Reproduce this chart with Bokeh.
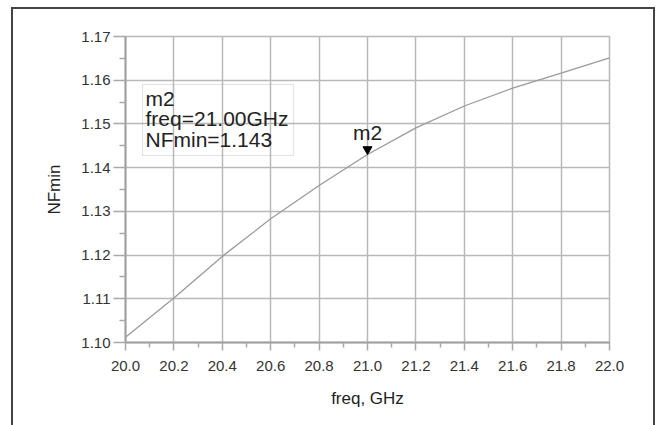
from bokeh.plotting import figure
from bokeh.models import BoxAnnotation, Range1d, FixedTicker, NumeralTickFormatter, Label, InlineStyleSheet
from bokeh.core.properties import value
from bokeh.embed import file_html
from bokeh.resources import INLINE

# ---- data ----
freq = [20.0, 20.2, 20.4, 20.6, 20.8, 21.0, 21.2, 21.4, 21.6, 21.8, 22.0]
nfmin = [1.1012, 1.1102, 1.1197, 1.1283, 1.1359, 1.1430, 1.1491, 1.1541, 1.1582, 1.1616, 1.1651]
x_ticks = [20.0, 20.2, 20.4, 20.6, 20.8, 21.0, 21.2, 21.4, 21.6, 21.8, 22.0]
y_ticks = [1.10, 1.11, 1.12, 1.13, 1.14, 1.15, 1.16, 1.17]
marker_name = "m2"
marker_freq = 21.0
x_label = "freq, GHz"
y_label = "NFmin"

# ---- layout ----
W, H = 659, 425
L, R, T, B = 125, 50, 36, 83
x0, x1 = x_ticks[0], x_ticks[-1]
y0, y1 = y_ticks[0], y_ticks[-1]
FW, FH = W - L - R, H - T - B

def px2x(px):
    return x0 + (px - L) / FW * (x1 - x0)

def py2y(py):
    return y1 - (py - T) / FH * (y1 - y0)

FONT = "Liberation Sans"
GRID = "#b8b8b8"

p = figure(width=W, height=H, x_range=Range1d(x0, x1), y_range=Range1d(y0, y1),
           output_backend="svg", toolbar_location=None,
           min_border_left=L, min_border_right=R, min_border_top=T, min_border_bottom=B)
p.background_fill_color = "white"
p.border_fill_color = "white"
p.outline_line_color = GRID
p.outline_line_width = 1.5

x_minor = [(a + b) / 2 for a, b in zip(x_ticks[:-1], x_ticks[1:])]
y_minor = [(a + b) / 2 for a, b in zip(y_ticks[:-1], y_ticks[1:])]
p.xaxis.ticker = FixedTicker(ticks=x_ticks, minor_ticks=x_minor)
p.yaxis.ticker = FixedTicker(ticks=y_ticks, minor_ticks=y_minor)
p.xgrid.ticker = FixedTicker(ticks=x_ticks)
p.ygrid.ticker = FixedTicker(ticks=y_ticks)
p.xaxis.formatter = NumeralTickFormatter(format="0.0")
p.yaxis.formatter = NumeralTickFormatter(format="0.00")

for g in (p.xgrid, p.ygrid):
    g.grid_line_color = GRID
    g.grid_line_width = 1.5

for ax in (p.xaxis, p.yaxis):
    ax.axis_line_color = "#a0a0a0"
    ax.axis_line_width = 2
    ax.major_tick_line_color = "#a8a8a8"
    ax.major_tick_line_width = 1.5
    ax.minor_tick_line_color = "#a8a8a8"
    ax.minor_tick_line_width = 1.5
    ax.major_tick_in = 0
    ax.minor_tick_in = 0
    ax.major_label_text_font = FONT
    ax.major_label_text_font_size = "15px"
    ax.major_label_text_color = "#333333"
    ax.axis_label_text_font = FONT
    ax.axis_label_text_font_size = "17px"
    ax.axis_label_text_font_style = "normal"
    ax.axis_label_text_color = "#222222"

p.xaxis.major_tick_out = 8
p.xaxis.minor_tick_out = 5
p.yaxis.major_tick_out = 12
p.yaxis.minor_tick_out = 6
p.xaxis.major_label_standoff = 10
p.yaxis.major_label_standoff = 3
p.xaxis.axis_label = x_label
p.yaxis.axis_label = y_label
p.xaxis.axis_label_standoff = 15
p.yaxis.axis_label_standoff = 14

# curve
p.line(freq, nfmin, line_color="#9a9a9a", line_width=1.3)

# marker
idx = freq.index(marker_freq)
mval = nfmin[idx]
px_per_y = FH / (y1 - y0)
p.scatter([marker_freq], [mval + 5.2 / px_per_y], marker="inverted_triangle",
          size=9, fill_color="black", line_color="black")
p.add_layout(Label(x=marker_freq, y=mval, text=marker_name, y_offset=22,
                   text_align="center", text_baseline="middle",
                   text_font=FONT, text_font_size="21px", text_color="#222222"))

# readout box
p.add_layout(BoxAnnotation(left=px2x(142), right=px2x(293), top=py2y(84), bottom=py2y(155),
                           fill_alpha=0, line_color="#a0a0a0", line_width=1.2))
lines = [marker_name, f"freq={marker_freq:.2f}GHz", f"{y_label}={mval:.3f}"]
for i, t in enumerate(lines):
    p.add_layout(Label(x=px2x(145), y=py2y(97.5 + 20.5 * i), text=t,
                       text_align="left", text_baseline="middle",
                       text_font=FONT, text_font_size="21px", text_color="#222222"))

# outer frame (open at the bottom), drawn over the canvas with CSS
p.stylesheets = [InlineStyleSheet(css="""
:host::after {
  content: "";
  position: absolute;
  left: 11px;
  top: 7px;
  width: 644px;
  height: 418px;
  border-top: 2px solid #444444;
  border-left: 2px solid #444444;
  border-right: 2px solid #444444;
  border-bottom: none;
  pointer-events: none;
  box-sizing: border-box;
}
""")]

open("out.html", "w").write(file_html(p, INLINE))
